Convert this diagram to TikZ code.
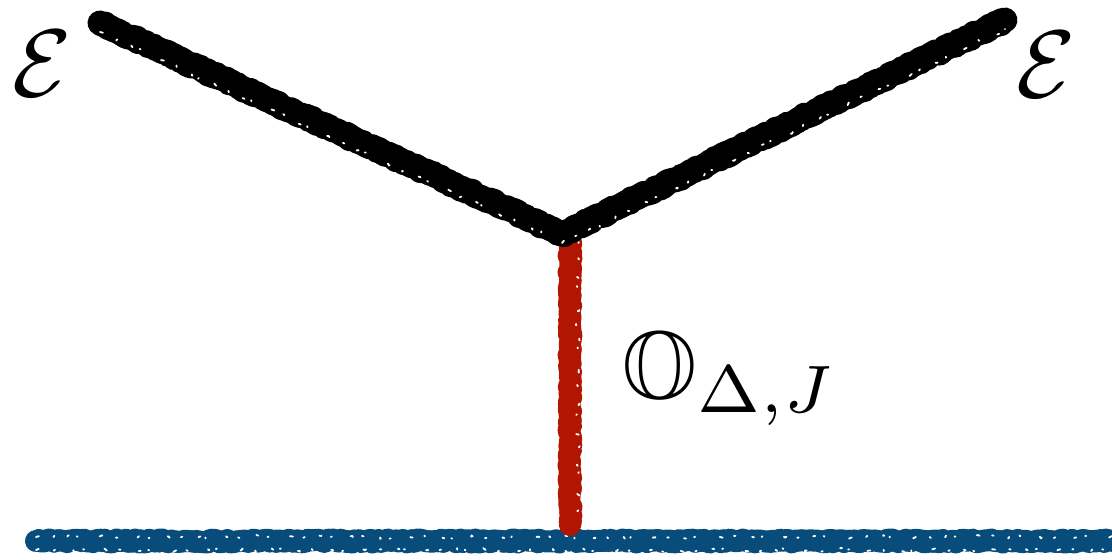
\documentclass[tikz,border=0pt]{standalone}
\usepackage{amssymb}
\usetikzlibrary{decorations.pathmorphing}
\definecolor{eblue}{RGB}{8,76,124}
\definecolor{ered}{RGB}{176,22,2}
\tikzset{
  roughbase/.style={line cap=round, line join=round, decorate},
  roughA/.style={roughbase, line width=#1,
    decoration={random steps, segment length=3pt, amplitude=1.5pt}},
  roughB/.style={roughbase, line width=#1,
    decoration={random steps, segment length=3pt, amplitude=5pt}},
  roughC/.style={roughbase, line width=4pt,
    decoration={random steps, segment length=2pt, amplitude=#1}},
  speck/.style={roughbase, white, line width=1.8pt,
    dash pattern=on 3pt off 17pt on 1.5pt off 23pt on 2pt off 11pt on 1pt off 29pt,
    decoration={random steps, segment length=2pt, amplitude=2pt}},
  lab/.style={inner sep=0pt},
}
\begin{document}
\begin{tikzpicture}[x=1pt,y=1pt]
\pgfmathsetseed{7}
\useasboundingbox (0,0) rectangle (1112,560);
\coordinate (A) at (100,537);
\coordinate (J) at (562,326);
\coordinate (B) at (1005,540);
\coordinate (Rt) at (570,320);
\coordinate (Rb) at (570,35);
\coordinate (L1) at (36,19);
\coordinate (L2) at (1125,19);
% blue base line
\draw[eblue,roughA=22pt] (L1) -- (L2);
\draw[eblue,roughB=14pt] (L1) -- (L2);
\draw[eblue,roughC=9pt] (L1) -- (L2);
\draw[speck] ([yshift=-9pt]L1) -- ([yshift=-9pt]L2);
\draw[speck] ([yshift=4pt]L1) -- ([yshift=4pt]L2);
% red propagator
\draw[ered,roughA=22pt] (Rt) -- (Rb);
\draw[ered,roughB=14pt] (Rt) -- (Rb);
\draw[ered,roughC=9pt] (Rt) -- (Rb);
\draw[speck] ([xshift=8pt]Rt) -- ([xshift=8pt]Rb);
% black external lines
\foreach \p/\q in {A/J,J/B}{
  \draw[black,roughA=25pt] (\p) -- (\q);
  \draw[black,roughB=17pt] (\p) -- (\q);
  \draw[black,roughC=11pt] (\p) -- (\q);
  \draw[speck] ([yshift=-9pt]\p) -- ([yshift=-9pt]\q);
}
\node[lab,scale=9.6] (eL) at (42,496) {$\mathcal{E}$};
\node[lab,scale=9.6] (eR) at (1046,495) {$\mathcal{E}$};
\node[lab,scale=9.6,anchor=base west] (op) at (621,162) {$\mathbb{O}_{\Delta,J}$};
\end{tikzpicture}
\end{document}
